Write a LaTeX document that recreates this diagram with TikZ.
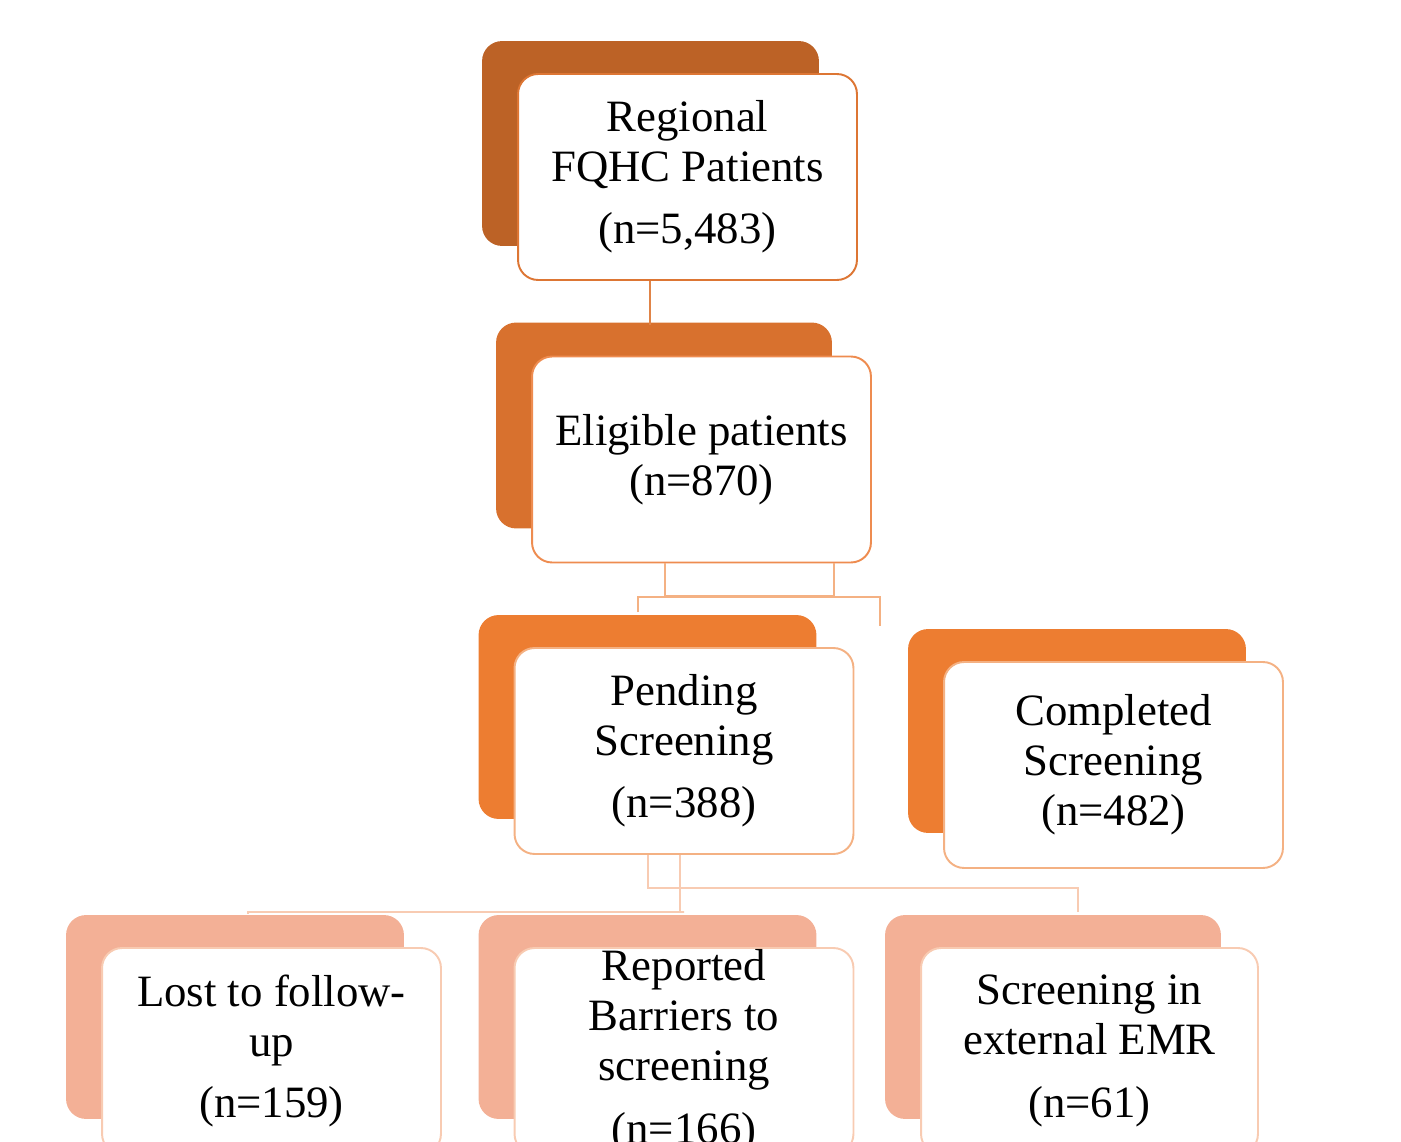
\documentclass[tikz,border=0pt]{standalone}
\usepackage{fontspec}
\setmainfont{Liberation Serif}
\usetikzlibrary{calc,backgrounds}

\definecolor{topback}{RGB}{188,98,38}
\definecolor{topline}{RGB}{221,118,52}
\definecolor{eligback}{RGB}{216,113,46}
\definecolor{eligline}{RGB}{238,140,80}
\definecolor{pendback}{RGB}{237,125,49}
\definecolor{pendline}{RGB}{244,177,131}
\definecolor{lowback}{RGB}{243,176,150}
\definecolor{lowline}{RGB}{248,203,178}

\tikzset{
    card/.style={draw, line width=1.1pt, fill=white, rounded corners=0.4cm,
        minimum width=6.78cm, minimum height=4.12cm, align=center,
        inner sep=0pt, font=\fontsize{25.5}{28.5}\selectfont},
    link/.style={line width=1.1pt}
}

\begin{document}
\begin{tikzpicture}[x=0.02cm, y=-0.02cm]
    \useasboundingbox (0,0) rectangle (1401,1142);

    % front boxes
    \node[card, draw=topline] (top) at (687.5,177) {Regional\\FQHC Patients\\[7pt](n=5,483)};
    \node[card, draw=eligline] (elig) at (701.5,459.5) {Eligible patients\\(n=870)};
    \node[card, draw=pendline] (pend) at (684,751) {Pending\\Screening\\[7pt](n=388)};
    \node[card, draw=pendline] (comp) at (1113.5,765) {Completed\\Screening\\(n=482)};
    \node[card, draw=lowline] (lost) at (271.5,1051) {Lost to follow-\\up\\[6pt](n=159)};
    \node[card, draw=lowline] (barr) at (684,1051) {Reported\\Barriers to\\screening\\[7pt](n=166)};
    \node[card, draw=lowline, minimum width=6.74cm] (emr) at (1089.5,1051) {Screening in\\external EMR\\[7pt](n=61)};

    % back tabs
    \begin{scope}[on background layer]
        \fill[topback, rounded corners=0.4cm] ($(top.north west)+(-35,-32)$) rectangle ($(top.south east)+(-39,-35)$);
        \fill[eligback, rounded corners=0.4cm] ($(elig.north west)+(-35,-33)$) rectangle ($(elig.south east)+(-40,-35)$);
        \foreach \b in {pend,comp}
            \fill[pendback, rounded corners=0.4cm] ($(\b.north west)+(-35,-32)$) rectangle ($(\b.south east)+(-38,-36)$);
        \foreach \b in {lost,barr,emr}
            \fill[lowback, rounded corners=0.4cm] ($(\b.north west)+(-35,-32)$) rectangle ($(\b.south east)+(-38,-36)$);
    \end{scope}

    % connectors
    \draw[link, color=topline!90] ($(top.south)+(-37.5,0)$) -- ++(0,44);
    \draw[link, pendline] ($(elig.south)+(-36.5,0)$) -- ++(0,33) -| ($(elig.south)+(132.5,0)$);
    \draw[link, pendline] ($(pend.north)+(-46,-35)$) |- ($(elig.south)+(0,34)$) -| ($(comp.north)+(-233.5,-35)$);
    \draw[link, lowline] ($(pend.south)+(-36,0)$) |- ($(pend.south)+(0,33)$) -| ($(emr.north)+(-11.5,-35)$);
    \draw[link, lowline] ($(pend.south)+(-4,0)$) |- ($(pend.south)+(0,57)$) -| ($(lost.north)+(-23.5,-33)$);
\end{tikzpicture}
\end{document}
